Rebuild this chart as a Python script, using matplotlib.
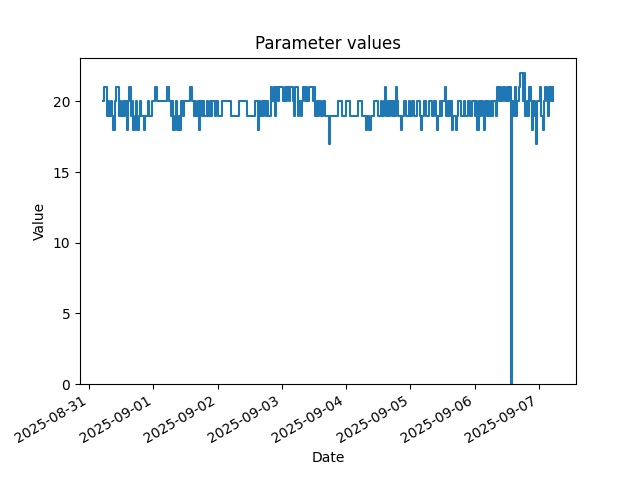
import matplotlib
matplotlib.use("Agg")
import matplotlib.pyplot as plt
import numpy as np
import pandas as pd

# half-hourly readings, starting 2025-08-31 05:00
aug31 = [20, 21, 21, 19, 20, 19, 20, 19, 18, 20,
         21, 21, 19, 20, 19, 20, 19, 20, 18, 20,
         21, 19, 20, 18, 19, 20, 18, 19, 20, 19,
         19, 18, 19, 19, 20, 19, 19, 20]
sep01 = [20, 21, 21, 20, 20, 20, 20, 20, 20, 20,
         21, 21, 20, 19, 20, 18, 19, 20, 18, 19,
         18, 20, 19, 20, 20, 20, 20, 21, 21, 20,
         19, 20, 19, 20, 18, 20, 19, 20, 19, 19,
         20, 19, 20, 19, 20, 20, 19, 20]
sep02 = [19, 19, 19, 20, 20, 20, 20, 20, 20, 20,
         19, 19, 19, 19, 19, 19, 20, 20, 20, 20,
         20, 20, 19, 19, 19, 19, 19, 19, 20, 20,
         18, 20, 19, 20, 19, 20, 19, 20, 19, 19,
         21, 20, 21, 19, 21, 20, 21, 21]
sep03 = [21, 20, 21, 20, 21, 20, 21, 21, 20, 19,
         21, 21, 19, 20, 19, 20, 21, 20, 21, 20,
         21, 21, 21, 20, 21, 19, 20, 19, 20, 19,
         19, 20, 19, 19, 19, 17, 19, 19, 19, 19,
         19, 19, 20, 20, 20, 19, 19, 19]
sep04 = [20, 20, 20, 19, 19, 19, 19, 19, 19, 20,
         20, 20, 19, 19, 19, 18, 19, 18, 18, 19,
         19, 20, 20, 20, 19, 19, 20, 19, 20, 21,
         19, 20, 19, 20, 19, 20, 19, 21, 20, 19,
         19, 18, 19, 20, 20, 19, 19, 20]
sep05 = [19, 20, 20, 19, 19, 20, 20, 19, 18, 19,
         20, 20, 19, 19, 20, 20, 19, 19, 20, 19,
         18, 19, 20, 19, 20, 20, 21, 19, 20, 19,
         20, 18, 19, 19, 18, 19, 20, 20, 19, 19,
         20, 19, 19, 20, 20, 19, 20, 20]
sep06 = [19, 20, 18, 20, 19, 20, 19, 18, 20, 19,
         20, 19, 20, 19, 20, 20, 19, 21, 20, 21,
         20, 21, 21, 20, 21, 20, 21, 0, 20, 19,
         21, 19, 20, 21, 22, 22, 20, 22, 19, 20,
         19, 21, 20, 18, 20, 19, 17, 20]
sep07 = [20, 21, 19, 18, 20, 21, 20, 19, 21, 20, 21, 20]

values = aug31 + sep01 + sep02 + sep03 + sep04 + sep05 + sep06 + sep07
dates = pd.date_range("2025-08-31 05:00", periods=len(values), freq="30min")

fig, ax = plt.subplots(figsize=(6.4, 4.8), dpi=100)
ax.plot(dates, values, drawstyle="steps-post")
ax.set_ylim(bottom=0)
ax.set_title("Parameter values")
ax.set_xlabel("Date")
ax.set_ylabel("Value")
fig.autofmt_xdate()
fig.savefig("out.png")
